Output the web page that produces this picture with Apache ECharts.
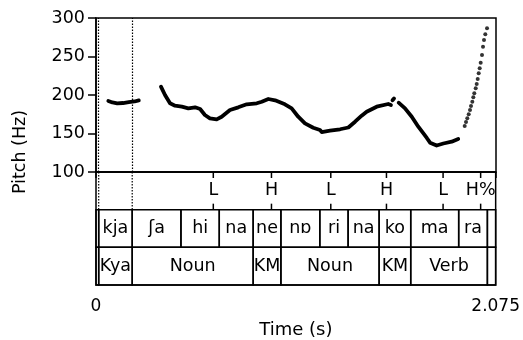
<!DOCTYPE html>
<html>
<head>
<meta charset="utf-8">
<script src="https://cdn.jsdelivr.net/npm/echarts@6/dist/echarts.min.js"></script>
<style>html,body{margin:0;padding:0;background:#fff;}#c{width:523px;height:340px;}</style>
</head>
<body>
<div id="c"></div>
<script>
// ---- data ----
const pitchSeg1 = [[0.064,192.2],[0.085,190.3],[0.110,189.2],[0.140,189.6],[0.170,190.8],[0.200,191.6],[0.222,193.0]];
const pitchSeg2 = [[0.337,210.8],[0.358,200.0],[0.384,189.2],[0.410,186.1],[0.445,184.8],[0.479,182.7],[0.514,184.0],[0.540,181.8],[0.565,174.0],[0.591,169.7],[0.626,168.4],[0.652,171.8],[0.695,180.5],[0.738,184.0],[0.782,187.9],[0.834,189.2],[0.860,191.3],[0.894,194.8],[0.929,193.1],[0.980,187.9],[1.015,182.7],[1.049,171.8],[1.084,163.2],[1.127,157.5],[1.162,154.5],[1.171,151.9],[1.214,153.6],[1.266,155.5],[1.309,157.8],[1.344,165.3],[1.378,173.1],[1.404,178.3],[1.456,184.8],[1.516,188.3],[1.530,187.0]];
const pitchSeg3 = [[1.538,193.1],[1.546,195.5]];
const pitchSeg4 = [[1.570,190.0],[1.603,182.7],[1.638,171.8],[1.672,158.8],[1.716,144.2],[1.733,138.1],[1.767,134.4],[1.802,137.0],[1.845,139.4],[1.879,142.9]];
const pitchDots = [[1.9126,159.7],[1.9194,164.9],[1.9261,169.7],[1.9334,174.9],[1.9401,180.5],[1.9453,185.7],[1.9521,191.3],[1.9573,197.0],[1.9624,202.2],[1.9697,208.7],[1.9749,214.3],[1.9801,220.8],[1.9853,228.2],[1.9904,234.7],[1.9956,241.9],[2.0024,251.9],[2.0076,262.7],[2.0128,271.4],[2.0195,278.8],[2.0284,286.6]];

const toneLabels = ['L','H','L','H','L','H%'];
const toneTimes = [0.609, 0.911, 1.219, 1.508, 1.802, 1.997];
const syllableLabels = ['', 'kja','ʃa','hi','na','ne','nɒ','ri','na','ko','ma','ra',''];
const syllableBounds = [0, 0.014, 0.188, 0.441, 0.640, 0.816, 0.960, 1.162, 1.309, 1.470, 1.634, 1.883, 2.032, 2.075];
const wordLabels = ['', 'Kya','Noun','KM','Noun','KM','Verb',''];
const wordBounds = [0, 0.014, 0.188, 0.816, 0.960, 1.470, 1.634, 2.032, 2.075];
const dottedTimes = [0.014, 0.188];
const timeMin = 0, timeMax = 2.075;
const hzMin = 100, hzMax = 300, hzStep = 50;

// ---- build ----
const FONT = 'DejaVu Sans';
function intervals(tier, bounds, labels) {
  return labels.map((l, i) => [bounds[i], bounds[i+1], tier]);
}
const sylData = intervals(1, syllableBounds, syllableLabels);
const wordData = intervals(2, wordBounds, wordLabels);

function intervalRenderer(labels) {
  return function (params, api) {
    const s = api.value(0), e = api.value(1), r = api.value(2);
    const p0 = api.coord([s, r]);
    const p1 = api.coord([e, r + 1]);
    return {
      type: 'group',
      children: [
        { type: 'rect', shape: { x: p0[0], y: p0[1], width: p1[0]-p0[0], height: p1[1]-p0[1] },
          style: { fill: 'none', stroke: '#000', lineWidth: 1.5 } },
        { type: 'text', style: { text: labels[params.dataIndex], x: (p0[0]+p1[0])/2, y: (p0[1]+p1[1])/2,
          align: 'center', verticalAlign: 'middle', font: '17.5px "' + FONT + '"', fill: '#000' } }
      ]
    };
  };
}

const chart = echarts.init(document.getElementById('c'), null, { renderer: 'canvas' });
const lineSeries = (d) => ({
  type: 'line', xAxisIndex: 0, yAxisIndex: 0, data: d, showSymbol: false, symbol: 'none',
  lineStyle: { color: '#000', width: 3.8, cap: 'round', join: 'round' }, silent: true, animation: false
});

chart.setOption({
  animation: false,
  backgroundColor: '#fff',
  grid: [
    { left: 96, right: 27, top: 18, height: 154, show: true, borderColor: '#000', borderWidth: 1.5, containLabel: false },
    { left: 96, right: 27, top: 172, height: 114, show: true, borderColor: '#000', borderWidth: 1.5, containLabel: false }
  ],
  xAxis: [
    { type: 'value', gridIndex: 0, min: timeMin, max: timeMax, show: false },
    { type: 'value', gridIndex: 1, min: timeMin, max: timeMax, interval: timeMax,
      name: 'Time (s)', nameLocation: 'middle', nameGap: 36,
      nameTextStyle: { fontFamily: FONT, fontSize: 18, color: '#000' },
      axisLine: { show: true, lineStyle: { color: '#000', width: 1.5 } },
      axisTick: { show: true, length: 6, lineStyle: { color: '#000', width: 1.5 } },
      axisLabel: { margin: 13, fontFamily: FONT, fontSize: 17, color: '#000',
        showMinLabel: true, showMaxLabel: true,
        formatter: v => (v === 0 ? '0' : String(timeMax)) },
      splitLine: { show: false } }
  ],
  yAxis: [
    { type: 'value', gridIndex: 0, min: hzMin, max: hzMax, interval: hzStep,
      axisLine: { show: true, lineStyle: { color: '#000', width: 1.5 } },
      axisTick: { show: true, length: 8, lineStyle: { color: '#000', width: 1.5 } },
      axisLabel: { margin: 11, fontFamily: FONT, fontSize: 17.5, color: '#000' },
      splitLine: { show: false } },
    { type: 'value', gridIndex: 1, min: 0, max: 3, inverse: true, show: false }
  ],
  graphic: [
    { type: 'text', x: 20, y: 152, rotation: Math.PI / 2,
      style: { text: 'Pitch (Hz)', font: '17.5px "' + FONT + '"', fill: '#000', align: 'center', verticalAlign: 'middle' } }
  ],
  series: [
    Object.assign(lineSeries(pitchSeg1), {
      markLine: { silent: true, symbol: 'none', label: { show: false },
        lineStyle: { color: '#000', type: [1.5, 1.5], width: 1.2 },
        data: dottedTimes.map(t => ({ xAxis: t })) }
    }),
    lineSeries(pitchSeg2),
    lineSeries(pitchSeg3),
    lineSeries(pitchSeg4),
    { type: 'scatter', xAxisIndex: 0, yAxisIndex: 0, data: pitchDots, symbol: 'circle', symbolSize: 4,
      itemStyle: { color: '#000' }, silent: true },
    { type: 'custom', xAxisIndex: 1, yAxisIndex: 1, data: dottedTimes.map(t => [t]), clip: false, silent: true,
      renderItem: function (params, api) {
        const t = api.value(0);
        const a = api.coord([t, 0]), b = api.coord([t, 1]);
        return { type: 'line', shape: { x1: a[0], y1: a[1], x2: b[0], y2: b[1] },
          style: { stroke: '#000', lineWidth: 1.2, lineDash: [1.5, 1.5] } };
      } },
    { type: 'custom', xAxisIndex: 1, yAxisIndex: 1, data: toneTimes.map(t => [t]), clip: false, silent: true,
      renderItem: function (params, api) {
        const t = api.value(0);
        const a = api.coord([t, 0]), b = api.coord([t, 1]);
        return { type: 'group', children: [
          { type: 'line', shape: { x1: a[0], y1: a[1], x2: a[0], y2: a[1] + 6 }, style: { stroke: '#000', lineWidth: 1.5 } },
          { type: 'line', shape: { x1: b[0], y1: b[1] - 6, x2: b[0], y2: b[1] }, style: { stroke: '#000', lineWidth: 1.5 } },
          { type: 'text', style: { text: toneLabels[params.dataIndex], x: a[0], y: (a[1] + b[1]) / 2,
            align: 'center', verticalAlign: 'middle', font: '17.5px "' + FONT + '"', fill: '#000' } }
        ] };
      } },
    { type: 'custom', xAxisIndex: 1, yAxisIndex: 1, data: sylData, clip: false, silent: true,
      renderItem: intervalRenderer(syllableLabels) },
    { type: 'custom', xAxisIndex: 1, yAxisIndex: 1, data: wordData, clip: false, silent: true,
      renderItem: intervalRenderer(wordLabels) }
  ]
});
</script>
</body>
</html>
